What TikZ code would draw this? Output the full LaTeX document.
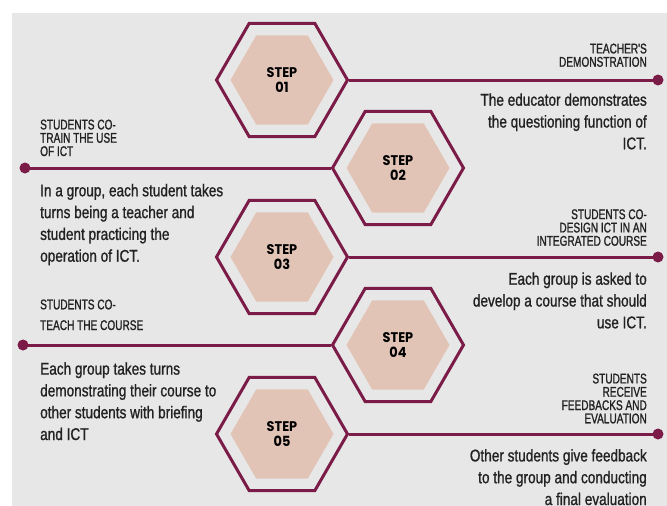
\documentclass[tikz,border=0pt]{standalone}
\usepackage{fontspec}
\usepackage{tikz}
\usetikzlibrary{shapes.geometric,positioning}
\setmainfont{Liberation Sans}
\newfontfamily\headfont{Liberation Sans}[FakeStretch=0.72,FakeBold=1.2]
\newfontfamily\bodyfont{Liberation Sans}[FakeStretch=0.8,FakeBold=1]
\newfontfamily\stepfont{Poppins}[FakeStretch=0.92]
\definecolor{bggrey}{HTML}{E7E7E7}
\definecolor{maroon}{HTML}{7A1C47}
\definecolor{blush}{HTML}{E2C4B7}
\definecolor{ink}{HTML}{222222}
\tikzstyle{outerhex} = [draw=maroon, line width=3pt, regular polygon,
    regular polygon sides=6, minimum size=131pt, inner sep=0pt]
\tikzstyle{innerhex} = [fill=blush, regular polygon, regular polygon sides=6,
    minimum size=103pt, inner sep=0pt, align=center,
    font=\stepfont\bfseries\fontsize{14}{15.7}\selectfont]
\tikzstyle{dot} = [circle, fill=maroon, minimum size=11pt, inner sep=0pt]
\tikzstyle{link} = [draw=maroon, line width=3pt]
\tikzstyle{head} = [inner sep=0pt, text=ink,
    font=\headfont\fontsize{14}{13.3}\selectfont]
\tikzstyle{body} = [inner sep=0pt, text=ink,
    font=\bodyfont\fontsize{17}{21.8}\selectfont]

\begin{document}
\begin{tikzpicture}[x=1pt, y=-1pt]
  \useasboundingbox (0,0) rectangle (667,506);
  \fill [bggrey] (12,13) rectangle (667,506);

  % hexagons
  \node [outerhex] (s1) at (282,80) {};
  \node [outerhex] (s2) at (398,168) {};
  \node [outerhex] (s3) at (282,257) {};
  \node [outerhex] (s4) at (398,345) {};
  \node [outerhex] (s5) at (282,434) {};
  \node [innerhex] (s1in) at (s1) {STEP\\01};
  \node [innerhex] (s2in) at (s2) {STEP\\02};
  \node [innerhex] (s3in) at (s3) {STEP\\03};
  \node [innerhex] (s4in) at (s4) {STEP\\04};
  \node [innerhex] (s5in) at (s5) {STEP\\05};

  % end dots
  \node [dot] (d1) at (658,80) {};
  \node [dot] (d2) at (25,168) {};
  \node [dot] (d3) at (658,257) {};
  \node [dot] (d4) at (23,345) {};
  \node [dot] (d5) at (658,434) {};
  \draw [link] (s1.east) -- (d1.center);
  \draw [link] (s2.west) -- (d2.center);
  \draw [link] (s3.east) -- (d3.center);
  \draw [link] (s4.west) -- (d4.center);
  \draw [link] (s5.east) -- (d5.center);

  % step 01 (base = last line)
  \node [head, anchor=base east, align=right] (h1) at (647,66.7)
    {TEACHER'S\\DEMONSTRATION};
  \node [body, anchor=base east, align=right] (b1) at (647,149.3)
    {The educator demonstrates\\the questioning function of\\ICT.};
  % step 02
  \node [head, anchor=base west, align=left] (h2) at (40,156)
    {STUDENTS CO-\\TRAIN THE USE\\OF ICT};
  \node [body, anchor=base west, align=left] (b2) at (40,261.7)
    {In a group, each student takes\\turns being a teacher and\\student practicing the\\operation of ICT.};
  % step 03
  \node [head, anchor=base east, align=right] (h3) at (647,245.7)
    {STUDENTS CO-\\DESIGN ICT IN AN\\INTEGRATED COURSE};
  \node [body, anchor=base east, align=right] (b3) at (647,328.3)
    {Each group is asked to\\develop a course that should\\use ICT.};
  % step 04
  \node [head, anchor=base west, align=left,
    font=\headfont\fontsize{14}{20.7}\selectfont] (h4) at (40,330)
    {STUDENTS CO-\\TEACH THE COURSE};
  \node [body, anchor=base west, align=left] (b4) at (40,440)
    {Each group takes turns\\demonstrating their course to\\other students with briefing\\and ICT};
  % step 05
  \node [head, anchor=base east, align=right] (h5) at (647,423.3)
    {STUDENTS\\RECEIVE\\FEEDBACKS AND\\EVALUATION};
  \node [body, anchor=base east, align=right] (b5) at (647,505)
    {Other students give feedback\\to the group and conducting\\a final evaluation};
\end{tikzpicture}
\end{document}
